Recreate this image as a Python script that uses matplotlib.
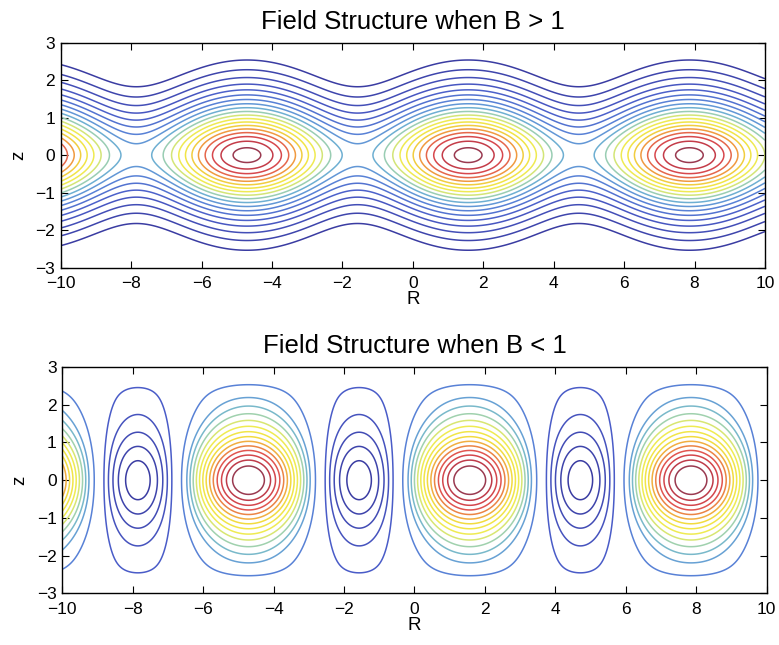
import numpy as np
import matplotlib
matplotlib.use("Agg")
import matplotlib.pyplot as plt
from matplotlib.colors import LinearSegmentedColormap, Normalize

# ---- data ----
titles = ["Field Structure when B > 1", "Field Structure when B < 1"]
B_values = [3.0, 0.5]              # field parameter for each panel
edge_z = [None, 2.7]               # steep fall-off of the lower field near |z| ~ 2.7
R_range = [-10, 10]
z_range = [-3, 3]
x_ticks = [-10, -8, -6, -4, -2, 0, 2, 4, 6, 8, 10]
y_ticks = [-3, -2, -1, 0, 1, 2, 3]
levels_upper = [0.63, 0.813, 0.996, 1.179, 1.362, 1.545, 1.728, 1.911, 2.094,
                2.277, 2.46, 2.643, 2.826, 3.009, 3.192, 3.375, 3.558, 3.741,
                3.924]
levels_lower = [-0.44, -0.35, -0.26, -0.17, -0.07,
                0.175, 0.32, 0.41, 0.50, 0.59, 0.68, 0.77, 0.86, 0.95,
                1.04, 1.13, 1.22, 1.31, 1.40]
levels_list = [levels_upper, levels_lower]

# scanned-jet look
cmap = LinearSegmentedColormap.from_list("scanjet", [
    (0.00, "#3a3ca2"),
    (0.20, "#4a5cc8"),
    (0.35, "#5a86d8"),
    (0.45, "#6fb2d2"),
    (0.52, "#a8d6a8"),
    (0.58, "#eeee58"),
    (0.70, "#f2e040"),
    (0.78, "#f09a40"),
    (0.86, "#e05050"),
    (0.94, "#c83c48"),
    (1.00, "#9a3a50"),
])

plt.rcParams['font.family'] = ['Liberation Sans', 'DejaVu Sans']

fig = plt.figure(figsize=(7.79, 6.45), dpi=100)
positions = [[0.078, 0.585, 0.904, 0.349], [0.080, 0.080, 0.904, 0.351]]

R = np.linspace(R_range[0], R_range[1], 1001)
z = np.linspace(z_range[0], z_range[1], 601)
RR, ZZ = np.meshgrid(R, z)

for title, B, z0, levels, pos in zip(titles, B_values, edge_z, levels_list, positions):
    ax = fig.add_axes(pos)
    prof = 1.0 / np.cosh(ZZ)
    if z0 is not None:
        prof = prof / (1.0 + (np.abs(ZZ) / z0) ** 16)
    psi = (B + np.sin(RR)) * prof
    norm = Normalize(vmin=min(levels), vmax=max(levels))
    ax.contour(RR, ZZ, psi, levels=levels, cmap=cmap, norm=norm, linewidths=1.1)
    ax.set_xlim(R_range)
    ax.set_ylim(z_range)
    ax.set_xticks(x_ticks)
    ax.set_yticks(y_ticks)
    ax.tick_params(direction='in', length=5, width=0.8, top=True, right=True,
                   labelsize=12.5)
    ax.tick_params(axis='x', pad=6)
    ax.tick_params(axis='y', pad=4)
    for sp in ax.spines.values():
        sp.set_linewidth(1.0)
    ax.set_title(title, fontsize=18.5, pad=10)
    ax.set_xlabel("R", fontsize=13.5, labelpad=0)
    ax.set_ylabel("z", fontsize=13.5, labelpad=6)

fig.savefig("out.png", dpi=100)
